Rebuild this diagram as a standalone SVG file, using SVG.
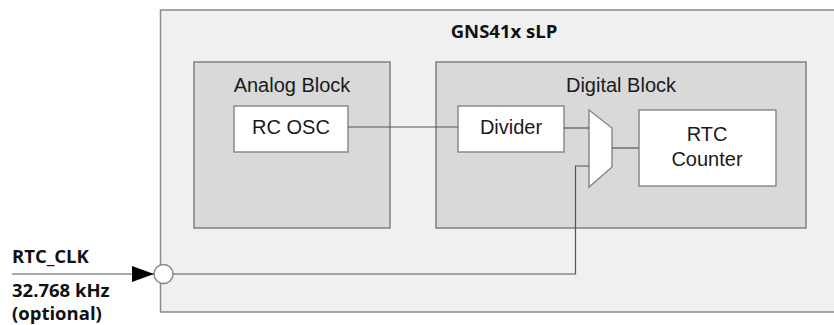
<svg xmlns="http://www.w3.org/2000/svg" width="834" height="325" viewBox="0 0 834 325">
<defs>
<style>
.outer{fill:#f0f0f0;stroke:#8a8a8a;stroke-width:1.5}
.block{fill:#d9d9d9;stroke:#808080;stroke-width:1.5}
.box{fill:#ffffff;stroke:#8a8a8a;stroke-width:1.5}
.wire{fill:none;stroke:#555555;stroke-width:1.2}
.lbl{font-family:"Liberation Sans",Arial,sans-serif;font-size:20px;fill:#1a1a1a;text-anchor:middle}
.bold{font-family:"Open Sans","DejaVu Sans",sans-serif;font-weight:bold;font-size:18.5px;fill:#111111}
</style>
<marker id="arr" markerWidth="22" markerHeight="16" refX="22" refY="8" orient="auto" markerUnits="userSpaceOnUse">
<path d="M0,0 L22,8 L0,16 Z" fill="#000000"/>
</marker>
</defs>
<g id="sLP">
<rect class="outer" x="160.5" y="10" width="690" height="302"/>
<text class="bold" x="504" y="38" text-anchor="middle">GNS41x sLP</text>
</g>
<g id="analog">
<rect class="block" x="194" y="62" width="196" height="166"/>
<text class="lbl" x="292" y="92">Analog Block</text>
</g>
<g id="digital">
<rect class="block" x="436" y="62" width="370" height="166"/>
<text class="lbl" x="621" y="92">Digital Block</text>
</g>
<g id="rcosc">
<rect class="box" x="234" y="106" width="114" height="46"/>
<text class="lbl" x="291" y="134">RC OSC</text>
</g>
<g id="divider">
<rect class="box" x="458" y="106" width="106" height="46"/>
<text class="lbl" x="511" y="134">Divider</text>
</g>
<g id="mux">
<path class="box" d="M589,110 L612,128 L612,167 L589,187 Z"/>
</g>
<g id="rtc">
<rect class="box" x="639" y="110" width="137" height="76"/>
<text class="lbl" x="707" y="141">RTC</text>
<text class="lbl" x="707" y="166">Counter</text>
</g>
<g id="pin">
<circle cx="163.5" cy="274" r="9.5" fill="#ffffff" stroke="#8a8a8a" stroke-width="1.5"/>
<text class="bold" x="12" y="263">RTC_CLK</text>
<text class="bold" x="12" y="297">32.768 kHz</text>
<text class="bold" x="12" y="320">(optional)</text>
</g>
<g id="connectors">
<path class="wire" d="M348,127 L458,127"/>
<path class="wire" d="M564,128 L589,128"/>
<path class="wire" d="M612,148 L639,148"/>
<path class="wire" d="M173,274 L575.5,274 L575.5,166 L589,166"/>
<path class="wire" d="M12,274 L154,274" marker-end="url(#arr)"/>
</g>
</svg>
